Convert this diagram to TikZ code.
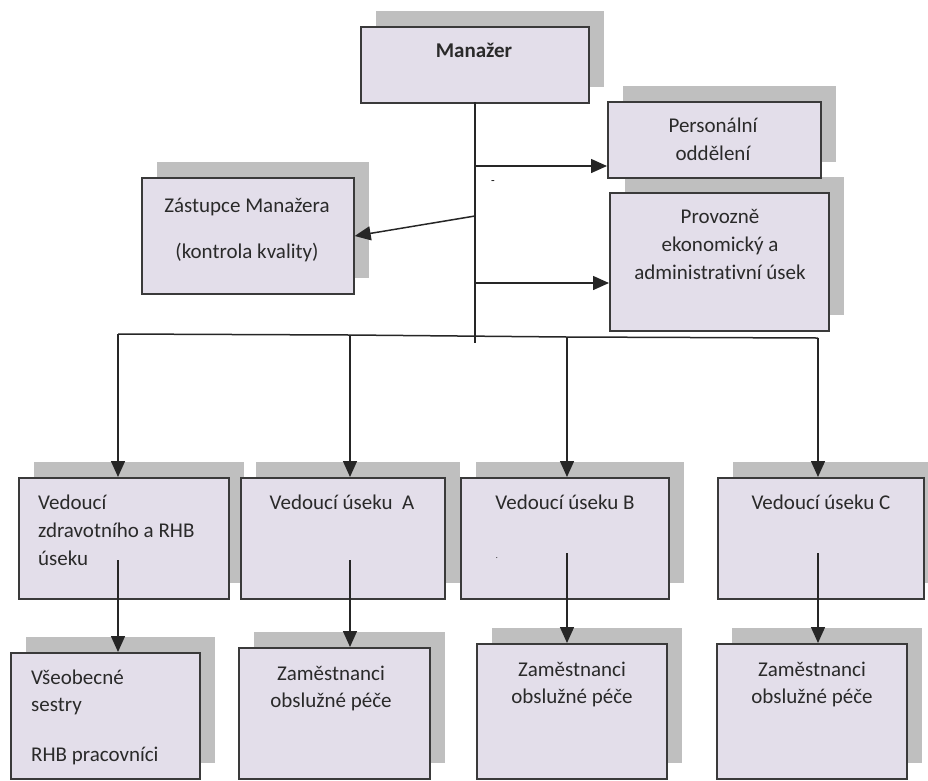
\documentclass[tikz,border=0pt]{standalone}
\usepackage{fontspec}
\setmainfont[Ligatures={NoCommon}]{Carlito}
\usetikzlibrary{shadows,arrows.meta}
\definecolor{boxfill}{HTML}{E3DEEA}
\definecolor{shadowgray}{HTML}{BFBFBF}
\definecolor{boxline}{HTML}{3A3A3A}
\definecolor{txt}{HTML}{2A2A2A}
\begin{document}
\begin{tikzpicture}[x=1pt,y=-1pt,
  orgbox/.style={draw=boxline, line width=1.7pt, fill=boxfill, anchor=north west, inner sep=0pt,
    general shadow={fill=shadowgray, draw=none, shadow xshift=15.5pt, shadow yshift=15.5pt}},
  lbl/.style={font=\fontsize{21}{26}\selectfont, text=txt, inner sep=0pt, anchor=base},
  lbll/.style={lbl, anchor=base west},
  conn/.style={line width=1.5pt, black!85},
  arr/.style={conn, -{Triangle[length=16pt,width=14pt]}}]
\useasboundingbox (0,0) rectangle (928,780);
\clip (0,0) rectangle (928,780);

% boxes
\node[orgbox, minimum width=228pt, minimum height=76pt] (man) at (360,26) {};
\node[orgbox, minimum width=212pt, minimum height=116pt] (zas) at (141,177) {};
\node[orgbox, minimum width=219pt, minimum height=138pt] (pro) at (609,192) {};
\node[orgbox, minimum width=213pt, minimum height=76pt] (per) at (607,101) {};

\node[orgbox, minimum width=210pt, minimum height=121pt] (v1) at (18,477) {};
\node[orgbox, minimum width=204pt, minimum height=121pt] (va) at (240,477) {};
\node[orgbox, minimum width=208pt, minimum height=121pt] (vb) at (460,477) {};
\node[orgbox, minimum width=206pt, minimum height=121pt] (vc) at (717,477) {};

\node[orgbox, minimum width=189pt, minimum height=126pt] (z1) at (10,652) {};
\node[orgbox, minimum width=191pt, minimum height=131pt] (za) at (238,647) {};
\node[orgbox, minimum width=190pt, minimum height=135pt] (zb) at (476,643) {};
\node[orgbox, minimum width=190pt, minimum height=135pt] (zc) at (716,643) {};

% labels
\node[lbl, font=\fontsize{21}{26}\selectfont\bfseries] (tman) at (474,57) {Manažer};
\node[lbl] (tzas1) at (247,212) {Zástupce Manažera};
\node[lbl] (tzas2) at (247,258) {(kontrola kvality)};
\node[lbl] (tper1) at (713,132) {Personální};
\node[lbl] (tper2) at (713,160) {oddělení};
\node[lbl] (tpro1) at (720,223) {Provozně};
\node[lbl] (tpro2) at (720,251) {ekonomický a};
\node[lbl] (tpro3) at (720,279) {administrativní úsek};

\node[lbll] (tv11) at (38,509) {Vedoucí};
\node[lbll] (tv12) at (38,537) {zdravotního a RHB};
\node[lbll] (tv13) at (38,565) {úseku};
\node[lbl] (tva) at (342,509) {Vedoucí úseku\ \ A};
\node[lbl] (tvb) at (565,509) {Vedoucí úseku B};
\node[lbl] (tvc) at (821,509) {Vedoucí úseku C};
\node[inner sep=0pt, font=\fontsize{8}{8}\selectfont] (dotb) at (497,558) {.};

\node[lbll] (tz11) at (31,684) {Všeobecné};
\node[lbll] (tz12) at (31,711) {sestry};
\node[lbll] (tz13) at (31,761) {RHB pracovníci};
\node[lbl] (tza1) at (331,680) {Zaměstnanci};
\node[lbl] (tza2) at (331,707) {obslužné péče};
\node[lbl] (tzb1) at (572,676) {Zaměstnanci};
\node[lbl] (tzb2) at (572,703) {obslužné péče};
\node[lbl] (tzc1) at (812,676) {Zaměstnanci};
\node[lbl] (tzc2) at (812,703) {obslužné péče};

\node[inner sep=0pt, font=\fontsize{12}{12}\selectfont] (dash) at (493,183) {-};

% connector points
\coordinate (top) at (475,102);
\coordinate (trunkend) at (475,343);
\coordinate (jper) at (475,166);
\coordinate (jzas) at (475,216);
\coordinate (jpro) at (475,283);
\coordinate (bus1) at (118,334);
\coordinate (bus2) at (350,335);
\coordinate (bus3) at (567,337);
\coordinate (bus4) at (818,338);
\coordinate (in1) at (118,560);
\coordinate (ina) at (350,560);
\coordinate (inb) at (567,553);
\coordinate (inc) at (818,553);

% connectors
\draw[conn] (top) -- (trunkend);
\draw[arr] (jper) -- (jper -| per.west);
\draw[arr] (jpro) -- (jpro -| pro.west);
\draw[arr] (jzas) -- (zas.east |- 0,236);
\draw[conn] (bus1) -- (bus2) -- (bus3) -- (bus4);
\draw[arr] (bus1) -- (bus1 |- v1.north);
\draw[arr] (bus2) -- (bus2 |- va.north);
\draw[arr] (bus3) -- (bus3 |- vb.north);
\draw[arr] (bus4) -- (bus4 |- vc.north);
\draw[arr] (in1) -- (in1 |- z1.north);
\draw[arr] (ina) -- (ina |- za.north);
\draw[arr] (inb) -- (inb |- zb.north);
\draw[arr] (inc) -- (inc |- zc.north);
\end{tikzpicture}
\end{document}
